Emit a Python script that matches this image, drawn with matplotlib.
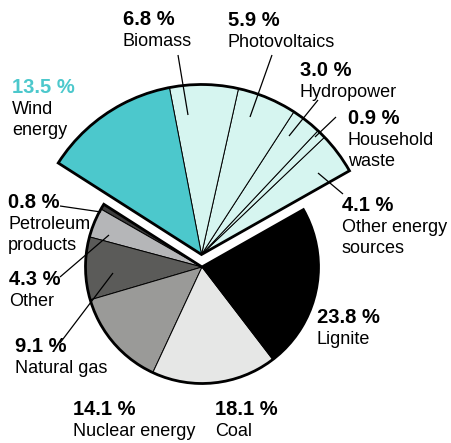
import matplotlib
matplotlib.use("Agg")
import matplotlib.pyplot as plt

# Gross electricity generation shares (percent)
categories = ["Other energy sources", "Household waste", "Hydropower",
              "Photovoltaics", "Biomass", "Wind energy",
              "Petroleum products", "Other", "Natural gas",
              "Nuclear energy", "Coal", "Lignite"]
shares = [4.1, 0.9, 3.0, 5.9, 6.8, 13.5, 0.8, 4.3, 9.1, 14.1, 18.1, 23.8]
renewable = [True, True, True, True, True, True,
             False, False, False, False, False, False]
label_names = ["Other energy\nsources", "Household\nwaste", "Hydropower",
               "Photovoltaics", "Biomass", "Wind\nenergy",
               "Petroleum\nproducts", "Other", "Natural gas",
               "Nuclear energy", "Coal", "Lignite"]

colors = ["#d6f5f0", "#d6f5f0", "#d6f5f0", "#d6f5f0", "#d6f5f0", "#4cc8cc",
          "#3c3c3c", "#b5b6b8", "#5b5b59", "#9a9a98", "#e6e7e6", "#000000"]

W, H = 452, 443
fig = plt.figure(figsize=(W / 100, H / 100), dpi=100)
ax = fig.add_axes([0, 0, 1, 1])

center = (202.0, H - 267.0)
r_small = 116.5
center_ren = (201.5, H - 254.5)
r_big = 170.0

wedges, _ = ax.pie(shares, colors=colors, startangle=29.5, counterclock=True,
                   center=center, radius=r_small,
                   wedgeprops=dict(edgecolor="black", linewidth=0.7))

ren_thetas, non_thetas = [], []
for w, is_ren in zip(wedges, renewable):
    if is_ren:
        w.set_radius(r_big)
        w.set_center(center_ren)
        ren_thetas += [w.theta1, w.theta2]
    else:
        non_thetas += [w.theta1, w.theta2]

# heavy outline around each group
from matplotlib.patches import Wedge
ax.add_patch(Wedge(center_ren, r_big, min(ren_thetas), max(ren_thetas),
                   fill=False, edgecolor="black", linewidth=2.0,
                   joinstyle="miter", zorder=5))
ax.add_patch(Wedge(center, r_small, min(non_thetas), max(non_thetas),
                   fill=False, edgecolor="black", linewidth=2.0,
                   joinstyle="miter", zorder=5))

ax.set_xlim(0, W)
ax.set_ylim(0, H)
ax.set_aspect("equal")
ax.axis("off")

font = "Liberation Sans"
# label anchor (x, baseline of percentage line) in pixel layout
label_pos = {
    "Other energy sources": (342, 211),
    "Household waste": (348, 124),
    "Hydropower": (300, 76),
    "Photovoltaics": (228, 26),
    "Biomass": (123, 25),
    "Wind energy": (12, 93),
    "Petroleum products": (8, 208),
    "Other": (9, 285),
    "Natural gas": (15, 352),
    "Nuclear energy": (73, 415),
    "Coal": (215, 415),
    "Lignite": (317, 323),
}
leaders = {
    "Biomass": [(178, 55), (188, 115)],
    "Photovoltaics": [(272, 55), (250, 117)],
    "Hydropower": [(318, 100), (289, 136)],
    "Household waste": [(336, 117), (315, 137)],
    "Other energy sources": [(318, 173), (343, 194)],
    "Petroleum products": [(60, 206), (101, 212)],
    "Other": [(60, 277), (109, 235)],
    "Natural gas": [(60, 343), (113, 273)],
}

for cat, val, name in zip(categories, shares, label_names):
    x, yb = label_pos[cat]
    pct_color = "#4cc8cc" if cat == "Wind energy" else "black"
    ax.text(x, H - yb, f"{val:.1f} %", fontsize=14.5, fontweight="bold",
            family=font, color=pct_color, ha="left", va="baseline")
    for i, line in enumerate(name.split("\n")):
        ax.text(x, H - (yb + 21 + 21 * i), line, fontsize=13, family=font,
                color="black", ha="left", va="baseline")
    if cat in leaders:
        (x0, y0), (x1, y1) = leaders[cat]
        ax.plot([x0, x1], [H - y0, H - y1], color="black", lw=0.9,
                zorder=6, solid_capstyle="butt")

fig.savefig("out.png", dpi=100)
